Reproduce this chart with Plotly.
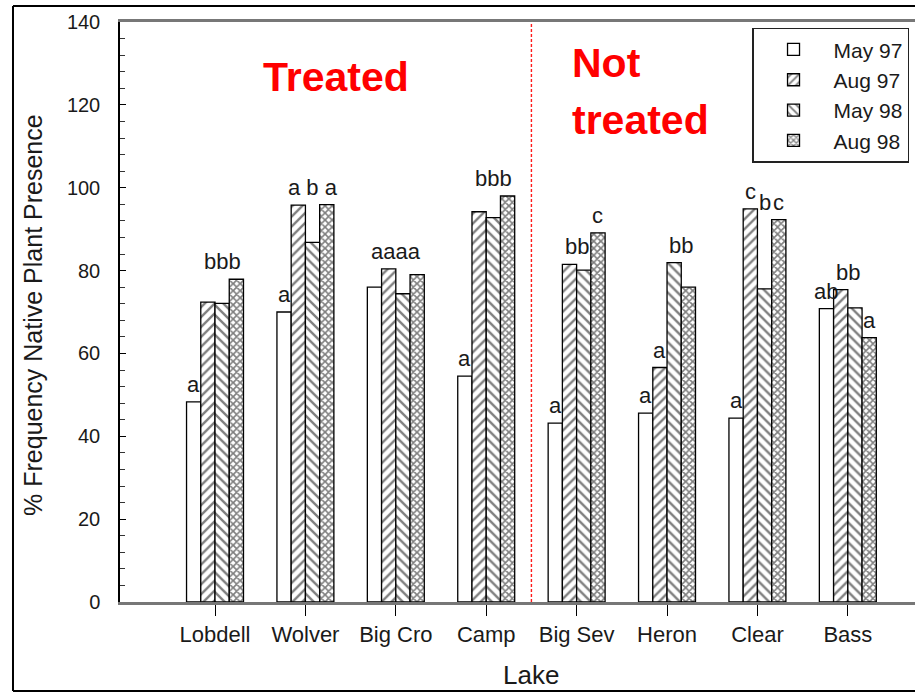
import plotly.graph_objects as go

# Lakes surveyed and native plant frequency (%) for each sampling date
lakes = ["Lobdell", "Wolver", "Big Cro", "Camp", "Big Sev", "Heron", "Clear", "Bass"]
may97 = [48.3, 70.0, 76.0, 54.5, 43.2, 45.6, 44.4, 70.8]
aug97 = [72.4, 95.8, 80.4, 94.2, 81.5, 56.6, 94.9, 75.4]
may98 = [72.1, 86.8, 74.4, 92.8, 80.1, 81.9, 75.6, 71.0]
aug98 = [77.9, 95.9, 79.0, 98.0, 89.1, 76.0, 92.3, 63.8]
series_names = ["May 97", "Aug 97", "May 98", "Aug 98"]

# Significance letters: (first bar, last bar, text[, bars that set the height])
letters = [
    [(0, 0, "a"), (1, 3, "bbb")],
    [(0, 0, "a"), (1, 3, "a b a")],
    [(0, 3, "aaaa")],
    [(0, 0, "a"), (1, 3, "bbb")],
    [(0, 0, "a"), (1, 2, "bb"), (3, 3, "c")],
    [(0, 0, "a"), (1, 1, "a"), (2, 3, "bb")],
    [(0, 0, "a"), (1, 1, "c"), (2, 2, "b", (3, 3)), (3, 3, "c")],
    [(0, 0, "ab"), (1, 2, "bb"), (3, 3, "a")],
]

FONT = "Liberation Sans, Arial, sans-serif"
INK = "#1a1a1a"
BARGAP = 0.37

patterns = [
    dict(shape=""),
    dict(shape="/", size=7, solidity=0.34, fgcolor="black", bgcolor="white"),
    dict(shape="\\", size=7, solidity=0.34, fgcolor="black", bgcolor="white"),
    dict(shape="x", size=5, solidity=0.55, fgcolor="black", bgcolor="white"),
]
all_values = [may97, aug97, may98, aug98]

fig = go.Figure()
for name, vals, pat in zip(series_names, all_values, patterns):
    fig.add_trace(go.Bar(
        x=lakes, y=vals, name=name,
        marker=dict(color="white", line=dict(color="black", width=1.3),
                    pattern=pat),
    ))

# Letter annotations above the bars
bar_w = (1 - BARGAP) / 4
annotations = []
for i, groups in enumerate(letters):
    for entry in groups:
        first, last, txt = entry[:3]
        lo, hi = entry[3] if len(entry) > 3 else (first, last)
        top = max(all_values[k][i] for k in range(lo, hi + 1))
        xc = i + ((first + last) / 2 - 1.5) * bar_w
        annotations.append(dict(
            x=xc, y=top, xref="x", yref="y", text=txt, showarrow=False,
            xanchor="center", yanchor="bottom", yshift=3,
            font=dict(family=FONT, size=22, color=INK),
        ))

# Axis titles
annotations.append(dict(
    x=-0.1094, y=0.495, xref="paper", yref="paper",
    xanchor="center", yanchor="middle",
    text="% Frequency Native Plant Presence", textangle=-90, showarrow=False,
    font=dict(family=FONT, size=25, color=INK),
))
annotations.append(dict(
    x=3.5, y=-0.1545, xref="x", yref="paper", text="Lake", showarrow=False,
    xanchor="center", yanchor="bottom", font=dict(family=FONT, size=26, color=INK),
))

# Group headings
red_font = dict(family=FONT, size=41, color="#ff0000")
annotations.append(dict(x=0.2717, y=0.905, xref="paper", yref="paper",
                        xanchor="center", yanchor="middle",
                        text="<b>Treated</b>", showarrow=False, font=red_font))
annotations.append(dict(x=0.566, y=0.929, xref="paper", yref="paper",
                        xanchor="left", yanchor="middle",
                        text="<b>Not</b>", showarrow=False, font=red_font))
annotations.append(dict(x=0.566, y=0.831, xref="paper", yref="paper",
                        xanchor="left", yanchor="middle",
                        text="<b>treated</b>", showarrow=False, font=red_font))

shapes = [
    # divider between treated and untreated lakes
    dict(type="line", xref="x", yref="paper", x0=3.5, x1=3.5, y0=0, y1=1,
         line=dict(color="#ff1a1a", width=1.4, dash="3px,2px")),
    # outer frame
    dict(type="line", xref="paper", yref="paper", x0=-0.1346, x1=-0.1346,
         y0=-0.1534, y1=1.0276, line=dict(color="black", width=2)),
    dict(type="line", xref="paper", yref="paper", x0=-0.1346, x1=1.2,
         y0=1.0276, y1=1.0276, line=dict(color="black", width=2)),
    dict(type="line", xref="paper", yref="paper", x0=-0.1346, x1=1.2,
         y0=-0.1534, y1=-0.1534, line=dict(color="black", width=2)),
]

fig.update_layout(
    width=915, height=692,
    margin=dict(l=120, r=0, t=22, b=90),
    paper_bgcolor="white", plot_bgcolor="white",
    barmode="group", bargap=BARGAP, bargroupgap=0,
    font=dict(family=FONT, color=INK),
    showlegend=True,
    legend=dict(
        x=0.795, y=0.99, xanchor="left", yanchor="top",
        bordercolor="#222", borderwidth=1.5, bgcolor="white",
        font=dict(family=FONT, size=21, color=INK),
        itemwidth=70, tracegroupgap=0, entrywidth=160,
    ),
    annotations=annotations,
    shapes=shapes,
)

fig.update_xaxes(
    type="category", range=[-1.051, 7.743],
    showline=True, linecolor="#777", linewidth=2.5, mirror=True,
    ticks="outside", ticklen=11, tickcolor="black", tickwidth=1,
    tickfont=dict(family=FONT, size=22, color=INK),
    showgrid=False, zeroline=False,
)
fig.update_yaxes(
    range=[0, 140], dtick=20, tick0=0,
    showline=True, linecolor="black", linewidth=1.5,
    ticks="inside", ticklen=6, tickcolor="black",
    minor=dict(dtick=4, ticks="inside", ticklen=5, tickcolor="#333"),
    tickfont=dict(family=FONT, size=20, color=INK),
    ticklabelstandoff=14,
    showgrid=False, zeroline=False,
)

fig.write_html("out.html")
